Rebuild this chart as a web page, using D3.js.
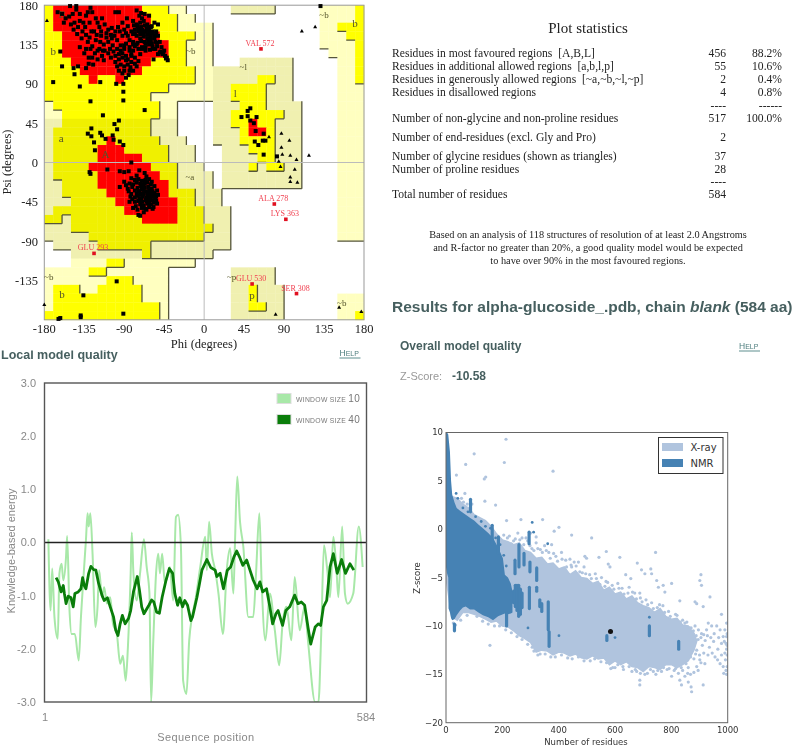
<!DOCTYPE html>
<html>
<head>
<meta charset="utf-8">
<title>alpha-glucoside model validation</title>
<script src="https://cdn.jsdelivr.net/npm/d3@7"></script>
<style>
body { margin: 0; background: #fff; }
svg { display: block; filter: blur(0.4px); }
.serif { font-family: "Liberation Serif", serif; }
.sans { font-family: "Liberation Sans", sans-serif; }
.vera { font-family: "DejaVu Sans", sans-serif; }
</style>
</head>
<body>
<script>
// ramachandran region map, one string per 10 deg of psi (top = 180), one char per 10 deg of phi
// . none, p ~b pale, o ~a/~l/~p, a allowed (a), y allowed (b,l,p), R most favoured
var ramaRows = [
  "yRRRRRRRRRRyyypp.....ooooo.....ppppy",
  "yRRRRRRRRRRRyyypp..............ppppy",
  "yRRRRRRRRRRRyyypppp............ppyyy",
  "yyRRRRRRRRRRRyyyypp............pppyy",
  "yyRRRRRRRRRRRRyyppp............ppppy",
  "yyRRRRRRRRRRRRyyppp.............pppy",
  "yyyRRRRRRRRRyyyyppp...oooooo.....ppy",
  "yyyyRRRRRRRyyyyyyppooooooooo.....ppy",
  "yyyyyRyyRyyyyyyyyppoooooyyoo.....ppy",
  "yyyyyyyyyyyyyypppppooyyyyooo.....ppp",
  "yyyyyyyyyyyypppppppooyyyyooo.....ppp",
  "pyyyyyyyyyyyypp....oooyyyoooo....ppp",
  "ppyyyyyyyyyyypp....ooyyyyyyoo....ppp",
  "ooaaaaaaaaaaooo....ooyyRyyooo....ppp",
  "oaaaaaaaaaaaooo....oooyRRyooo....ppp",
  "oaaaaaaRaaaaaooo...oooyyyyooo....ppp",
  "oaaaaaRRRaaaaaooo...oooyyyooo....ppp",
  "oaaaaaRRRRRaaaooo...ooooyyooo....ppp",
  "oaaaaRRRRRRRaaaooo..oooyoyyoo....ppp",
  "oaaaaaRRRRRRRaaoooo.ooooooooo....ppp",
  "ooaaaaRRRRRRRRaoooo.ooooooooo....ppp",
  "ooaaaaaRRRRRRRaaaooo.............ppp",
  "oooaaaaaRRRRRRRaaooo.............ppp",
  "oaaaaaaaaRRRRRRaaaooo............ppp",
  "aaoaaaaaaaaRRRRaaaooo............ppp",
  "oooaaaaaaaaaaaaaaaaoo............ppp",
  "oooooaaaaaaaaaaaaaooo............ppp",
  ".oooooaaaaaaooooooooo...............",
  "...ooooooooaooooooo.................",
  "...ppppyypppppppp...................",
  "pppppyyppppppp.......ooooo..........",
  "pppppppyyypppp.......ooooo..........",
  "pyyyppyyyyyppp.......ooyooo.........",
  "pyyyyyyyyyyppp.......ooyooo......ppp",
  "pyyyyyyyyyyyyp.......ooyyoo......ppp",
  "yyyyyyyyyyyyyp.......oooooo......ppy"
];
var ramaColors = { ".": "#ffffff", p: "#ffffc0", o: "#f0f0b0", a: "#f0f000", y: "#ffff00", R: "#ff0000" };
var ramaLevels = { ".": 0, p: 1, o: 2, a: 3, y: 3, R: 5 };

var phiTicks = [-180, -135, -90, -45, 0, 45, 90, 135, 180];
var psiTicks = [180, 135, 90, 45, 0, -45, -90, -135];

// residues as [phi, psi]
var betaPoints = [
  [-151,179],[-144,179],[-144,175],[-128,177],[-165,172],[-160,170],[-156,165],[-148,170],[-140,170],[-133,168],
  [-126,172],[-122,165],[-146,160],[-150,158],[-142,155],[-136,160],[-129,160],[-127,150],[-137,150],[-118,155],
  [-112,158],[-108,152],[-116,145],[-122,140],[-131,138],[-126,133],[-118,130],[-113,135],[-105,146],[-100,150],
  [-95,150],[-108,138],[-103,134],[-98,140],[-92,145],[-88,148],[-84,140],[-100,172],[-96,172],[-76,174],
  [-71,171],[-67,170],[-62,168],[-80,162],[-76,158],[-72,160],[-68,162],[-64,158],[-60,155],[-56,160],
  [-52,158],[-74,150],[-70,152],[-66,150],[-62,150],[-58,148],[-78,148],[-82,150],[-86,145],[-72,142],
  [-68,144],[-64,142],[-60,140],[-56,142],[-52,145],[-50,138],[-62,135],[-58,133],[-55,130],[-48,132],
  [-45,128],[-44,122],[-42,120],[-47,124],[-90,130],[-92,125],[-88,122],[-96,118],[-84,132],[-80,128],
  [-78,120],[-82,115],[-86,112],[-90,105],[-85,100],[-80,105],[-76,110],[-74,116],[-72,124],[-70,130],
  [-76,135],[-115,122],[-120,118],[-125,112],[-133,108],[-130,120],[-105,120],[-100,115],[-88,136],[-94,134],
  [-110,148],[-104,154],[-86,156],[-90,152],[-66,136],[-60,147],[-54,150],[-70,165],[-65,153],[-73,168],
  [-82,124],[-78,113],[-84,105],[-114,128],[-121,146],[-140,162],[-134,155],[-66,128],[-53,137],[-50,126],
  [-79,157],[-75,156],[-71,155],[-67,157],[-63,155],[-59,156],[-78,152],[-74,153],[-70,149],[-66,150],
  [-62,152],[-58,150],[-54,147],[-80,147],[-76,145],[-72,147],[-68,147],[-64,146],[-60,143],[-56,145],
  [-80,138],[-75,137],[-71,139],[-67,138],[-63,138],[-59,136],[-55,138],[-78,133],[-74,130],[-70,132],
  [-66,132],[-61,129],[-57,130],[-53,133],[-49,127],[-46,125],[-43,119],[-41,117],[-52,124],[-57,118],
  [-106,130],[-102,127],[-98,130],[-94,128],[-90,134],[-100,122],[-96,124],[-92,120],[-88,117],[-94,112],
  [-98,110],[-90,110],[-86,118],[-92,102],[-88,97],[-83,109],[-96,105],[-82,122],[-80,135],[-84,128],
  [-158,160],[-152,167],[-147,152],[-143,147],[-138,142],[-133,146],[-129,143],[-124,150],[-120,160],[-115,165],
  [-110,143],[-117,138],[-112,128],[-123,125],[-128,130],[-135,125],[-140,132],[-133,130],[-108,125],[-104,142],
  [-101,145],[-97,155],[-92,160],[-87,165],[-116,150],[-131,172],[-120,128],[-126,120],[-113,117],[-130,113]
];
var scatteredPoints = [
  [-162,127],[-160,110],[-147,108],[-142,110],[-146,101],[-170,92],[-140,87],[-117,92],[-99,90],[-91,90],
  [-91,81],[-91,71],[-128,70],[-67,60],[-114,54],[-96,48],[-101,44],[-98,38],[-127,39],[-131,33],
  [-127,30],[-117,34],[-115,31],[-111,27],[-103,31],[-102,26],[-124,23],[-123,14],[-95,24],[-91,20],
  [-129,-11],[-128,-13],[-109,-8],[-82,0],[-95,-10],[-90,-11],[-85,-10],[-73,-9],[-67,-12],[-98.5,-136],
  [-136,-152],[-91,-173],[-139,-175],[-139,-177],[-162,-178],[-164,-179],[131,179],
  [52,62],[49,59],[42,52],[49,53],[52,48],[59,52],[56,45],[58,36],[67,33],[57,24],[61,20],[66,25],[69,25],[67,9],[82,7]
];
var alphaPoints = [
  [-95,-28],[-90,-22],[-84,-45],[-80,-52],[-74,-60],[-72,-61],[-65,-54],[-57,-51],[-53,-47],[-54,-39],
  [-53,-32],[-59,-22],[-65,-16],[-76,-15],[-82,-18],[-84,-24],[-85,-33],[-83,-39],[-78,-45],
  [-78,-20],[-74,-19],[-70,-21],[-66,-20],[-62,-19],[-80,-25],[-76,-23],[-72,-24],[-68,-25],[-64,-23],[-60,-25],
  [-81,-28],[-75,-29],[-71,-27],[-67,-29],[-63,-28],[-59,-30],[-56,-27],[-78,-32],[-74,-33],[-70,-31],
  [-66,-33],[-62,-32],[-58,-33],[-82,-36],[-76,-36],[-72,-37],[-68,-35],[-64,-37],[-60,-36],[-56,-35],
  [-52,-37],[-78,-40],[-73,-41],[-69,-39],[-65,-40],[-61,-41],[-57,-39],[-74,-44],[-70,-45],[-66,-43],
  [-62,-45],[-58,-43],[-54,-44],[-72,-48],[-68,-49],[-64,-47],[-60,-48],[-70,-52],[-66,-53],[-62,-51],
  [-58,-53],[-77,-50],[-75,-54],[-68,-57],[-81,-42],[-86,-30],[-88,-26],[-73,-33],[-69,-36],[-65,-44],
  [-67,-24],[-63,-34],[-61,-38],[-71,-42],[-75,-38],[-69,-30],[-63,-41],[-57,-46],[-55,-41],[-59,-36]
];
var glyPoints = [
  [-177,162],[-180,-163],[110,150],[125,155],[73,29],[87,33],[96,25],[87,17],[88,9],[97,8],
  [104,3],[118,8],[84,1],[86,-5],[102,-8],[97,-17],[97,-22],[105,-23],[80.5,-174],[152,-166],[177,-171]
];
var outlierNames = ["VAL 572", "ALA 278", "LYS 363", "GLU 293", "GLU 530", "SER 308"];
var outlierPhi = [64, 79, 92, -124, 54, 104];
var outlierPsi = [130, -47.5, -65, -104, -139, -150];
var regionNames = ["B", "b", "a", "A", "b", "l", "p", "b", "~b", "~l", "~a", "~b", "~b", "~b", "~p"];
var regionPhi = [-160, -170, -161, -111, -160, 35, 54, 170, -15, 44, -16, -175, 135, 155, 31];
var regionPsi = [170, 127, 28, 9, -151, 79, -152, 159, 128, 109, -16, -131, 169, -161, -131];

// statistics table
var statLabels = [
  "Residues in most favoured regions  [A,B,L]",
  "Residues in additional allowed regions  [a,b,l,p]",
  "Residues in generously allowed regions  [~a,~b,~l,~p]",
  "Residues in disallowed regions",
  "",
  "Number of non-glycine and non-proline residues",
  "Number of end-residues (excl. Gly and Pro)",
  "Number of glycine residues (shown as triangles)",
  "Number of proline residues",
  "",
  "Total number of residues"
];
var statCounts = ["456", "55", "2", "4", "----", "517", "2", "37", "28", "----", "584"];
var statPercents = ["88.2%", "10.6%", "0.4%", "0.8%", "------", "100.0%", "", "", "", "", ""];
var statRows = [53, 66, 79, 92, 105, 118, 137, 156, 169, 181.5, 194.5];
var noteLines = [
  "Based on an analysis of 118 structures of resolution of at least 2.0 Angstroms",
  "and R-factor no greater than 20%, a good quality model would be expected",
  "to have over 90% in the most favoured regions."
];

// local model quality
var energyTicks = [3, 2, 1, 0, -1, -2, -3];
var win10Pos = [8,12,15,19,25,28,32,35,40,42,46,50,56,63,67,72,76,79,81,84,88,93,97,100,105,109,114,120,125,132,138,143,148,152,157,159,162,168,174,181,186,191,194,198,203,207,210,214,219,228,234,239,243,248,252,258,263,268,274,283,292,295,299,304,310,316,324,331,337,343,346,350,355,361,370,379,384,390,394,401,409,418,426,432,439,448,454,463,472,478,491,497,502,507,513,518,524,530,533,540,545,550,560,570,577];
var win10Val = [0.06,-1.28,-0.49,-1.4,-1.81,-0.58,-0.4,-0.71,-0.27,0.12,-1.21,-1.72,-1.72,-2.22,-1.4,-0.58,0.04,0.55,0.3,0.55,-0.21,-1.59,-1.21,-0.52,-1.03,-0.84,-1.15,-1.03,-1.53,-1.72,-2.28,-2.13,-2.6,-1.97,-0.58,0.19,-0.58,-1.09,-0.58,0.06,-0.46,-0.96,-3,-1.84,-0.58,-0.21,-0.58,-0.21,-0.77,-0.46,-1.09,0.48,0.52,-0.08,-2.6,-2.85,-1.84,-1.4,-1.09,-0.46,0.11,-0.52,0.39,-0.21,-0.52,-0.96,-1.72,-0.52,-0.11,-0.96,0.04,1.24,0.39,-0.08,-1.4,-1.4,-0.58,0.55,-0.71,-1.84,-0.96,-1.65,-2.31,-1.53,-1.21,-1.84,-0.65,-1.65,-1.21,-1.84,-3,-3,-1.72,-0.05,-0.52,-1.03,0.11,-0.58,-1.03,0.3,-0.96,-1.15,-0.96,0.3,-0.46];
var win40Pos = [22,26,31,35,37,40,44,49,53,56,62,67,70,73,76,81,85,90,94,99,105,109,115,120,126,130,134,138,142,147,153,157,162,169,173,177,181,186,190,195,199,204,209,214,221,227,233,237,242,246,251,255,260,266,269,277,281,286,295,302,310,313,319,325,332,338,344,349,354,360,367,373,379,386,391,396,403,409,414,420,424,432,438,445,454,460,466,472,478,483,491,497,501,506,512,518,524,531,539,546,554,561];
var win40Val = [-0.66,-0.74,-0.93,-0.81,-0.96,-1.15,-1.01,-1.04,-1.21,-0.96,-0.93,-0.87,-0.66,-0.81,-0.87,-0.58,-0.45,-0.51,-0.52,-0.77,-0.99,-1.09,-1.04,-1.21,-1.4,-1.65,-1.75,-1.53,-1.37,-1.53,-1.43,-1.28,-0.93,-0.64,-0.9,-1.21,-1.34,-1.25,-1.18,-1.08,-1.12,-1.31,-1.33,-1.03,-0.71,-0.49,-0.58,-0.96,-1.18,-1.04,-1.21,-1.09,-1.18,-1.47,-1.4,-1.03,-0.81,-0.52,-0.32,-0.47,-0.52,-0.64,-0.58,-0.87,-0.52,-0.46,-0.27,-0.16,-0.27,-0.43,-0.33,-0.52,-0.71,-0.87,-0.74,-0.93,-0.87,-1.21,-1.53,-1.34,-1.28,-1.56,-1.28,-1.21,-0.99,-1.15,-1.12,-1.18,-1.59,-1.91,-1.59,-1.53,-1.56,-1.21,-1.09,-0.46,-0.21,-0.58,-0.32,-0.58,-0.4,-0.52];

// z-score cloud: envelopes
var xrayN = [0,20,40,60,80,100,120,140,160,180,200,220,240,260,280,300,320,340,360,380,400,420,440,460,480,500,520,540,560,580,600,620,640,660,680,700,720,740,760,780,800,820,840,860,880,890];
var xrayTop = [4.2,3.4,3.2,2.6,2.2,1.5,1.2,0.9,0.3,-0.5,-1.1,-1.3,-1.6,-1.4,-2.2,-2.4,-3,-2.9,-3.6,-3.5,-4.1,-3.9,-4.7,-4.3,-5,-5.1,-5.6,-5.4,-6.3,-6,-6.7,-6.5,-7.2,-6.9,-7.6,-7.9,-8.1,-8.6,-8.2,-9,-9.3,-9.2,-9.9,-10,-10.8,-11.5];
var xrayBottom = [-5,-9,-9.4,-8.6,-8.6,-8.8,-9,-9.3,-9.6,-9.5,-10,-10.1,-10.5,-11,-11.3,-11.7,-12.7,-12.5,-12.6,-13,-12.7,-12.8,-13.1,-12.9,-13.3,-13.4,-13.1,-13.4,-13.3,-14,-13.6,-14,-13.7,-14.2,-14.3,-14.7,-14.2,-14.3,-14.5,-14,-14,-14.3,-14,-13.6,-12.5,-11.6];
var nmrN = [0,4,8,9,14,18,22,30,38,50,60,70,85,100,115,131,150,167,185,202,209,220,230,236];
var nmrTop = [10,10,9.8,9.5,8,5,3.6,2.8,2.2,1.9,1.7,1.5,1.2,0.9,0.5,0.1,-0.4,-0.9,-1.9,-3,-4.7,-5,-5.6,-6.4];
var nmrBottom = [-3.9,-4.6,-5,-8.2,-8.6,-9.2,-9.4,-9.3,-8.9,-8.4,-8.1,-8,-8.3,-8.3,-8.6,-8.9,-9.1,-9.4,-9,-8.8,-8.7,-8.8,-8.7,-8.6];
var stackN = [87,164,186,259,295,298,277,322,322,245,240,246,252,258,264,270,296,333,340,363,366,215,571,722,826,30];
var stackTop = [3.1,0.4,-0.8,-1.6,-0.3,-3.4,-2.5,-4,-6,-3.2,-6.4,-5.8,-5.8,-5.8,-6.2,-6.6,-6,-7.3,-7.7,-7.5,-10.6,-8.7,-11,-10,-11.6,-9.8];
var stackBottom = [1.8,-1.5,-2.5,-3.9,-1.5,-4.4,-3.7,-5.3,-6.4,-4.6,-7.6,-8,-8.4,-9,-8.8,-8.1,-8.2,-8,-8.5,-10.4,-12.1,-10,-11.5,-11,-12.4,-10.5];
var xrayDots = [
  [213,9.3],[100,7.8],[70,6.7],[207,6.9],[380,6],[141,5.4],[136,5.2],[37,5.6],[138,2.9],[67,3.7],[176,2.5],[266,1],[215,0.9],[343,1],[401,0.2],[384,-0.2],[446,-0.6],[517,-0.9],[569,-2.3],[744,-2.4],
  [617,-2.9],[543,-2.9],[493,-2.8],[499,-3],[576,-3.6],[582,-3.9],[470,-3.4],[446,-3.9],[679,-3.5],[694,-4.2],[706,-4.6],[727,-4.1],[730,-4.6],[638,-4.7],[656,-5.1],[748,-5.3],[754,-6],[771,-5.8],[801,-5.6],[905,-4.7],
  [901,-5.3],[907,-5.8],[777,-6.5],[688,-6.6],[830,-7.4],[884,-7.5],[937,-7],[890,-7.7],[913,-8],[978,-8.8],[156,-12],[884,-10],[896,-10.4],[907,-10.8],[878,-10.8],[931,-9.7],[943,-10],[925,-10.4],[961,-10],[973,-10.4],
  [990,-10.4],[996,-9.7],[996,-11.1],[984,-11.1],[994,-11.8],[955,-13.2],[973,-13.9],[984,-14.2],[994,-14.6],[990,-12.8],[919,-13.9],[890,-14.2],[901,-13.5],[825,-14.9],[830,-15.6],[848,-15.2],[860,-15.8],[870,-16.3],[872,-16.8],[836,-16.1],
  [913,-16.1],[688,-15.6],[688,-16.1],[677,-14.7],[801,-15.2],[765,-14.7],[736,-14.7],[998,-10.8],[998,-12],[998,-13],[998,-14.2],[870,-12],[880,-11.5],[890,-12.5],[900,-13],[910,-12],[920,-11.5],[935,-12.2],[950,-11.6],[965,-12.4],
  [225,-0.7],[240,-1.2],[255,-0.4],[270,-0.9],[290,-1.2],[305,-2],[320,-1.4],[335,-2.1],[350,-1.7],[365,-2.4],[375,-1.6],[390,-2.8],[410,-2.4],[425,-3.2],[440,-3.1],[455,-3.4],[475,-4.4],[490,-3.9],[510,-4.7],[530,-4.6],
  [552,-5],[568,-5.4],[590,-5.8],[610,-5.6],[625,-6.1],[650,-6],[670,-6.6],[690,-7.1],[710,-7.3],[730,-7.6],[750,-8.1],[770,-7.9],[790,-8.5],[815,-8.8],[840,-9.4],[855,-9.6],[870,-10.2],[660,-14.7],[630,-14.5],[600,-14.3],
  [585,-14.4],[715,-14.9],[745,-15],[785,-14.5],[810,-14.6],[840,-14.6],[860,-14.3],[880,-13.4],[55,3.2],[62,2.8],[75,2.6],[92,2.6],[300,-0.4],[320,-0.8],
  // ragged upper edge
  [205,-0.6],[218,-0.9],[232,-1.5],[246,-1],[262,-1.1],[276,-1.6],[284,-0.9],[298,-1.7],[312,-2.2],[326,-2],[342,-2.4],[356,-2.2],[370,-3],[382,-2.5],[396,-3.3],[412,-3.1],[428,-3.9],[444,-3.7],[462,-3.8],[484,-4.5],
  [496,-4.6],[516,-5.1],[534,-5.1],[546,-5.7],[564,-5.9],[574,-5.5],[596,-6.2],[614,-6.1],[632,-6.7],[646,-6.6],[662,-6.5],[676,-7.2],[696,-7.5],[716,-7.8],[736,-8.2],[758,-7.8],[776,-8.6],[796,-9],[820,-8.9],[832,-9.6],[848,-9.7],[864,-10.2],[878,-10.5],[888,-11],
  // ragged lower edge
  [52,-9.4],[34,-9.9],[26,-9.7],[75,-8.9],[110,-9],[130,-9.5],[150,-9.8],[172,-10],[190,-10],[212,-10.4],[232,-10.7],[252,-11.1],[270,-11.4],[290,-11.9],[306,-12.2],[312,-12.6],[326,-13],[334,-12.9],[352,-12.9],[372,-13.2],
  [388,-13.2],[410,-13],[432,-13.3],[448,-13.4],[470,-13.2],[490,-13.6],[512,-13.6],[528,-13.4],[550,-13.7],[570,-13.8],[592,-14.3],[610,-14],[628,-14.2],[650,-14.2],[672,-14.5],[690,-14.9],[706,-15],[726,-14.5],[752,-14.6],[772,-14.3],[792,-14.4],[815,-14.4],[835,-14.3],[852,-13.9],[868,-13.2],[886,-12.9],
  // the loose group on the right
  [895,-11.4],[905,-11.2],[915,-10.9],[928,-11],[940,-11.2],[952,-10.8],[968,-11.2],[978,-11.8],[988,-11.6],[996,-12.4],[945,-12.8],[930,-13],[915,-12.8],[905,-13.8],[895,-14.6],[880,-14.8],[868,-15],[858,-14.9],[964,-13.5],[978,-13],[992,-13.5],[986,-14.9],[996,-15]
];
var nmrDots = [[306,0.7],[311,-0.3],[361,-1.5],[291,-10.2],[401,-11],[600,-11.2],[722,-9.1],[36,3.7],[42,3.2],[60,2.2],[78,1.8],[105,1.3],[125,0.8],[140,0.3],[158,0.1],[176,-0.9],[192,-1.6],[205,-2.7],[214,-3.8]];
var modelN = [584];
var modelZ = [-10.58];
var zTicks = [10, 5, 0, -5, -10, -15, -20];
var nTicks = [0, 200, 400, 600, 800, 1000];

var svg = d3.select("body").append("svg").attr("width", 795).attr("height", 747);

//------ ramachandran plot
var phiScale = d3.scaleLinear().domain([-180, 180]).range([44.3, 364]);
var psiScale = d3.scaleLinear().domain([180, -180]).range([5.2, 319.8]);
var rama = svg.append("g");

function cellAt(r, c) { return ramaRows[r] && ramaRows[r][c]; }

var cells = [];
ramaRows.forEach(function(row, r) {
  row.split("").forEach(function(code, c) {
    cells.push({ r: r, c: c, code: code });
  });
});

rama.selectAll(".cell").data(cells).enter().append("rect")
  .attr("class", "cell")
  .attr("x", function(d) { return phiScale(-180 + d.c * 10); })
  .attr("y", function(d) { return psiScale(180 - d.r * 10); })
  .attr("width", phiScale(10) - phiScale(0) + 0.3)
  .attr("height", psiScale(0) - psiScale(10) + 0.3)
  .attr("fill", function(d) { return ramaColors[d.code]; });

// dark shadow on right and bottom edges of each step down
var shadow = "";
cells.forEach(function(d) {
  if (d.code == "R" || d.code == ".") return;
  var lev = ramaLevels[d.code];
  var x0 = phiScale(-180 + d.c * 10), x1 = phiScale(-170 + d.c * 10);
  var y0 = psiScale(180 - d.r * 10), y1 = psiScale(170 - d.r * 10);
  var right = cellAt(d.r, d.c + 1), below = cellAt(d.r + 1, d.c);
  if (right && ramaLevels[right] < lev) shadow += "M" + x1 + "," + y0 + "V" + y1;
  // no shadow under the left part of the lower ~a band in the original
  if (d.r == 28 && d.c < 11) return;
  if (below && ramaLevels[below] < lev) shadow += "M" + x0 + "," + y1 + "H" + x1;
});
rama.append("path").attr("d", shadow).attr("fill", "none").attr("stroke", "#55553a").attr("stroke-width", 1.3);

rama.append("line").attr("x1", phiScale(0)).attr("x2", phiScale(0)).attr("y1", psiScale(180)).attr("y2", psiScale(-180)).attr("stroke", "#bbb").attr("stroke-width", 1);
rama.append("line").attr("x1", phiScale(-180)).attr("x2", phiScale(180)).attr("y1", psiScale(0)).attr("y2", psiScale(0)).attr("stroke", "#bbb").attr("stroke-width", 1);
rama.append("rect").attr("x", phiScale(-180)).attr("y", psiScale(180)).attr("width", phiScale(180) - phiScale(-180)).attr("height", psiScale(-180) - psiScale(180))
  .attr("fill", "none").attr("stroke", "#999").attr("stroke-width", 1);

rama.selectAll(".region").data(regionNames).enter().append("text")
  .attr("class", "serif")
  .attr("x", function(d, i) { return phiScale(regionPhi[i]); })
  .attr("y", function(d, i) { return psiScale(regionPsi[i]); })
  .attr("dy", "0.35em").attr("text-anchor", "middle")
  .attr("font-size", function(d) { return d[0] == "~" ? 9 : 11; })
  .attr("fill", "#55552a")
  .text(function(d) { return d; });

var allSquares = betaPoints.concat(scatteredPoints, alphaPoints);
rama.selectAll(".res").data(allSquares).enter().append("rect")
  .attr("x", function(d) { return phiScale(d[0]) - 2; })
  .attr("y", function(d) { return psiScale(d[1]) - 2; })
  .attr("width", 4).attr("height", 4).attr("fill", "#000");

var tri = d3.symbol().type(d3.symbolTriangle).size(7);
rama.selectAll(".gly").data(glyPoints).enter().append("path")
  .attr("d", tri)
  .attr("transform", function(d) { return "translate(" + phiScale(d[0]) + "," + psiScale(d[1]) + ")"; })
  .attr("fill", "#000");

rama.selectAll(".bad").data(outlierNames).enter().append("rect")
  .attr("x", function(d, i) { return phiScale(outlierPhi[i]) - 1.8; })
  .attr("y", function(d, i) { return psiScale(outlierPsi[i]) - 1.8; })
  .attr("width", 3.6).attr("height", 3.6).attr("fill", "#e01020");
rama.selectAll(".badlabel").data(outlierNames).enter().append("text")
  .attr("class", "serif")
  .attr("x", function(d, i) { return phiScale(outlierPhi[i]) - 1; })
  .attr("y", function(d, i) { return psiScale(outlierPsi[i]) - 3; })
  .attr("text-anchor", "middle").attr("font-size", 8).attr("fill", "#f04050")
  .text(function(d) { return d; });

rama.selectAll(".xt").data(phiTicks).enter().append("text")
  .attr("class", "serif").attr("x", function(d) { return phiScale(d); }).attr("y", 333)
  .attr("text-anchor", "middle").attr("font-size", 12.5).attr("fill", "#222").text(function(d) { return d; });
rama.selectAll(".yt").data(psiTicks).enter().append("text")
  .attr("class", "serif").attr("x", 38).attr("y", function(d) { return psiScale(d); })
  .attr("dy", "0.35em").attr("text-anchor", "end").attr("font-size", 12.5).attr("fill", "#222").text(function(d) { return d; });
rama.append("text").attr("class", "serif").attr("x", 204).attr("y", 348).attr("text-anchor", "middle").attr("font-size", 12.5).attr("fill", "#222").text("Phi (degrees)");
rama.append("text").attr("class", "serif").attr("transform", "translate(11,162) rotate(-90)").attr("text-anchor", "middle").attr("font-size", 12.5).attr("fill", "#222").text("Psi (degrees)");

//------ statistics text
var stats = svg.append("g").attr("class", "serif").attr("fill", "#222");
stats.append("text").attr("x", 588).attr("y", 33).attr("text-anchor", "middle").attr("font-size", 15).text("Plot statistics");
stats.selectAll(".lab").data(statLabels).enter().append("text")
  .attr("x", 392).attr("y", function(d, i) { return statRows[i] + 3.5; }).attr("font-size", 11.6).attr("xml:space", "preserve")
  .text(function(d) { return d; });
stats.selectAll(".cnt").data(statCounts).enter().append("text")
  .attr("x", 726).attr("y", function(d, i) { return statRows[i] + 3.5; }).attr("text-anchor", "end").attr("font-size", 11.6)
  .text(function(d) { return d; });
stats.selectAll(".pct").data(statPercents).enter().append("text")
  .attr("x", 782).attr("y", function(d, i) { return statRows[i] + 3.5; }).attr("text-anchor", "end").attr("font-size", 11.6)
  .text(function(d) { return d; });
stats.selectAll(".note").data(noteLines).enter().append("text")
  .attr("x", 588).attr("y", function(d, i) { return 237.5 + i * 13; }).attr("text-anchor", "middle").attr("font-size", 10.3)
  .text(function(d) { return d; });

//------ headings
var head = "#465f5f";
var title = svg.append("text").attr("class", "sans").attr("x", 392).attr("y", 312).attr("font-size", 15.5).attr("font-weight", "bold").attr("fill", head);
title.append("tspan").text("Results for alpha-glucoside_.pdb, chain ");
title.append("tspan").attr("font-style", "italic").text("blank");
title.append("tspan").text(" (584 aa)");

svg.append("clipPath").attr("id", "headclip").append("rect").attr("x", 0).attr("y", 350.5).attr("width", 300).attr("height", 20);
svg.append("text").attr("class", "sans").attr("clip-path", "url(#headclip)").attr("x", 1).attr("y", 358.5).attr("font-size", 12.5).attr("font-weight", "bold").attr("fill", head).text("Local model quality");
svg.append("text").attr("class", "sans").attr("x", 400).attr("y", 350).attr("font-size", 12).attr("font-weight", "bold").attr("fill", head).text("Overall model quality");
svg.append("text").attr("class", "sans").attr("x", 400).attr("y", 380).attr("font-size", 11).attr("fill", "#999").text("Z-Score:");
svg.append("text").attr("class", "sans").attr("x", 452).attr("y", 380).attr("font-size", 12).attr("font-weight", "bold").attr("fill", head).text("-10.58");

function helpLink(x, y) {
  var t = svg.append("text").attr("class", "sans").attr("x", x).attr("y", y).attr("fill", "#4f7f7f").attr("font-size", 7);
  t.append("tspan").attr("font-size", 8.5).text("H");
  t.append("tspan").text("ELP");
  svg.append("line").attr("x1", x).attr("x2", x + 21).attr("y1", y + 2).attr("y2", y + 2).attr("stroke", "#5f8f8f");
}
helpLink(339.5, 356);
helpLink(739, 349);

//------ local model quality
var posScale = d3.scaleLinear().domain([1, 584]).range([44.5, 366.5]);
var energyScale = d3.scaleLinear().domain([3, -3]).range([383, 702]);
var local = svg.append("g");

svg.append("clipPath").attr("id", "localclip").append("rect").attr("x", 44.5).attr("y", 383).attr("width", 322).attr("height", 319);
var energyLine = d3.line().x(function(d) { return posScale(d[0]); }).y(function(d) { return energyScale(d[1]); });
local.append("path").attr("clip-path", "url(#localclip)")
  .attr("d", energyLine.curve(d3.curveMonotoneX)(d3.zip(win10Pos, win10Val))).attr("fill", "none").attr("stroke", "#a8e8a8").attr("stroke-width", 2);
local.append("line").attr("x1", 44.5).attr("x2", 366.5).attr("y1", energyScale(0)).attr("y2", energyScale(0)).attr("stroke", "#222").attr("stroke-width", 1.6);
local.append("path").attr("d", energyLine.curve(d3.curveLinear)(d3.zip(win40Pos, win40Val))).attr("fill", "none").attr("stroke", "#0a7d0a").attr("stroke-width", 2.8).attr("stroke-linejoin", "round");
local.append("rect").attr("x", 44.5).attr("y", 383).attr("width", 322).attr("height", 319).attr("fill", "none").attr("stroke", "#555").attr("stroke-width", 1.4);

local.selectAll(".et").data(energyTicks).enter().append("text")
  .attr("class", "sans").attr("x", 36).attr("y", function(d) { return energyScale(d); }).attr("dy", "0.35em")
  .attr("text-anchor", "end").attr("font-size", 11).attr("fill", "#888").text(function(d) { return d.toFixed(1); });
local.append("text").attr("class", "sans").attr("x", 45).attr("y", 721).attr("text-anchor", "middle").attr("font-size", 11).attr("fill", "#888").text("1");
local.append("text").attr("class", "sans").attr("x", 366).attr("y", 721).attr("text-anchor", "middle").attr("font-size", 11).attr("fill", "#888").text("584");
local.append("text").attr("class", "sans").attr("x", 206).attr("y", 741).attr("text-anchor", "middle").attr("font-size", 11).attr("letter-spacing", 0.4).attr("fill", "#888").text("Sequence position");
local.append("text").attr("class", "sans").attr("transform", "translate(15,551) rotate(-90)").attr("text-anchor", "middle").attr("font-size", 11).attr("fill", "#888").text("Knowledge-based energy");

var legendNames = ["10", "40"];
var legendColors = ["#a8e8a8", "#0a7d0a"];
var legendRows = [399, 420];
legendNames.forEach(function(name, i) {
  local.append("rect").attr("x", 277).attr("y", legendRows[i] - 5.5).attr("width", 14).attr("height", 10).attr("fill", legendColors[i]).attr("stroke", "#ddd");
  var t = local.append("text").attr("class", "sans").attr("x", 296).attr("y", legendRows[i] + 3).attr("fill", "#777").attr("font-size", 6.8).attr("letter-spacing", 0.3);
  t.append("tspan").text("WINDOW SIZE ");
  t.append("tspan").attr("font-size", 10).text(name);
});

//------ z-score scatter
var nScale = d3.scaleLinear().domain([0, 1000]).range([446, 727.7]);
var zScale = d3.scaleLinear().domain([10, -20]).range([432.5, 722.7]);
var zplot = svg.append("g");
svg.append("clipPath").attr("id", "zclip").append("rect").attr("x", 446).attr("y", 432.5).attr("width", 281.7).attr("height", 290.2);
var clouds = zplot.append("g").attr("clip-path", "url(#zclip)");
var xray = "#b0c4de", nmr = "#4682b4";

var cloudArea = d3.area().x(function(d) { return nScale(d[0]); }).y0(function(d) { return zScale(d[1]); }).y1(function(d) { return zScale(d[2]); });
clouds.append("path").attr("d", cloudArea(d3.zip(xrayN, xrayTop, xrayBottom))).attr("fill", xray).attr("stroke", xray).attr("stroke-width", 1.5);
clouds.selectAll(".xd").data(xrayDots).enter().append("circle")
  .attr("cx", function(d) { return nScale(d[0]); }).attr("cy", function(d) { return zScale(d[1]); }).attr("r", 1.6).attr("fill", xray);
clouds.append("path").attr("d", cloudArea(d3.zip(nmrN, nmrTop, nmrBottom))).attr("fill", nmr);
clouds.selectAll(".st").data(d3.zip(stackN, stackTop, stackBottom)).enter().append("line")
  .attr("x1", function(d) { return nScale(d[0]); }).attr("x2", function(d) { return nScale(d[0]); })
  .attr("y1", function(d) { return zScale(d[1]); }).attr("y2", function(d) { return zScale(d[2]); })
  .attr("stroke", nmr).attr("stroke-width", 3.2).attr("stroke-linecap", "round");
clouds.selectAll(".nd").data(nmrDots).enter().append("circle")
  .attr("cx", function(d) { return nScale(d[0]); }).attr("cy", function(d) { return zScale(d[1]); }).attr("r", 1.4).attr("fill", nmr);
clouds.append("circle").attr("cx", nScale(modelN[0])).attr("cy", zScale(modelZ[0])).attr("r", 2.5).attr("fill", "#111");

zplot.append("rect").attr("x", 446).attr("y", 432.5).attr("width", 281.7).attr("height", 290.2).attr("fill", "none").attr("stroke", "#666").attr("stroke-width", 1);
zplot.selectAll(".zt").data(zTicks).enter().append("text")
  .attr("class", "vera").attr("x", 443).attr("y", function(d) { return zScale(d); }).attr("dy", "0.35em")
  .attr("text-anchor", "end").attr("font-size", 8.5).attr("fill", "#333").text(function(d) { return String(d).replace("-", "\u2212"); });
zplot.selectAll(".nt").data(nTicks).enter().append("text")
  .attr("class", "vera").attr("x", function(d) { return nScale(d); }).attr("y", 733)
  .attr("text-anchor", "middle").attr("font-size", 8.5).attr("fill", "#333").text(function(d) { return d; });
zplot.append("text").attr("class", "vera").attr("x", 586).attr("y", 745).attr("text-anchor", "middle").attr("font-size", 8.5).attr("fill", "#333").text("Number of residues");
zplot.append("text").attr("class", "vera").attr("transform", "translate(420,578) rotate(-90)").attr("text-anchor", "middle").attr("font-size", 8.5).attr("fill", "#333").text("Z-score");

zplot.append("rect").attr("x", 658.5).attr("y", 437.5).attr("width", 64.5).attr("height", 36).attr("fill", "#fff").attr("stroke", "#333").attr("stroke-width", 1);
var zLegend = ["X-ray", "NMR"], zLegendColors = [xray, nmr], zLegendRows = [447, 463];
zLegend.forEach(function(name, i) {
  zplot.append("rect").attr("x", 662).attr("y", zLegendRows[i] - 4).attr("width", 21).attr("height", 8).attr("fill", zLegendColors[i]);
  zplot.append("text").attr("class", "vera").attr("x", 690.5).attr("y", zLegendRows[i]).attr("dy", "0.35em").attr("font-size", 10).attr("fill", "#333").text(name);
});
</script>
</body>
</html>
